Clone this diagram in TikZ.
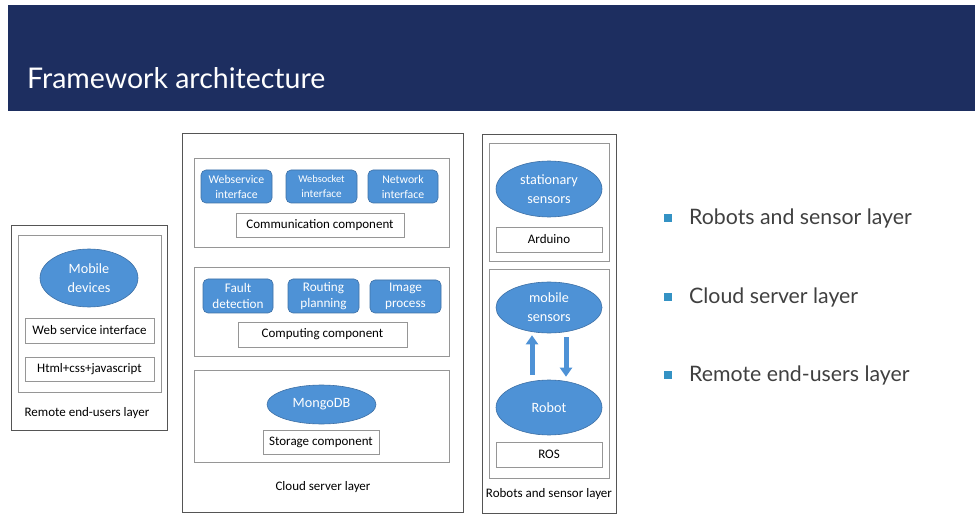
\documentclass[tikz,border=0pt]{standalone}
\usepackage{fontspec}
\setmainfont{Carlito}
\newfontfamily\gillfont{Lato}
\usetikzlibrary{shapes.geometric,arrows.meta,calc}
\definecolor{hdrblue}{RGB}{29,46,96}
\definecolor{ellblue}{RGB}{78,146,214}
\definecolor{ellborder}{RGB}{62,112,165}
\definecolor{boxgray}{RGB}{150,150,150}
\definecolor{outgray}{RGB}{85,85,85}
\definecolor{bultxt}{RGB}{64,64,64}
\definecolor{bulsq}{RGB}{52,146,196}
\begin{document}
\begin{tikzpicture}[x=1pt,y=-1pt,
  outerbox/.style={draw=outgray,line width=0.9pt,inner sep=0pt},
  inbox/.style={draw=boxgray,line width=0.8pt,inner sep=0pt},
  lbl/.style={draw=boxgray,line width=0.7pt,fill=white,inner sep=0pt,font=\fontsize{13}{14}\selectfont},
  ell/.style={ellipse,fill=ellblue,draw=ellborder,line width=0.6pt,inner sep=0pt,text=white,align=center,font=\fontsize{14.2}{19}\selectfont},
  rbox/.style={rounded corners=5pt,fill=ellblue,draw=ellborder,line width=0.6pt,inner sep=0pt,text=white,align=center},
  layerlbl/.style={inner sep=0pt,font=\fontsize{13}{14}\selectfont},
  bul/.style={fill=bulsq,minimum size=8pt,inner sep=0pt},
  bultext/.style={anchor=west,inner sep=0pt,text=bultxt,font=\gillfont\fontsize{21.3}{25}\selectfont},
  blockarrow/.style={draw=ellblue,line width=5pt,-{Triangle[width=12pt,length=9pt]}}
]
\useasboundingbox (0,0) rectangle (979,526);
% header
\node[fill=hdrblue,minimum width=967pt,minimum height=106pt,inner sep=0pt] (hdr) at (491.5,58) {};
\node[anchor=base west,inner sep=0pt,text=white,font=\gillfont\fontsize{28.5}{32}\selectfont] (title) at (27,89) {Framework architecture};

% Remote end-users layer
\node[outerbox,minimum width=156pt,minimum height=205pt] (remote) at (89,327.5) {};
\node[inbox,minimum width=143pt,minimum height=157pt] (remotein) at (89.5,313.5) {};
\node[ell,minimum width=98pt,minimum height=58pt] (mobile) at (89,278) {Mobile\\devices};
\node[lbl,minimum width=129pt,minimum height=25pt] (websi) at (89.5,330.5) {Web service interface};
\node[lbl,minimum width=129pt,minimum height=24pt] (html) at (89.5,369) {Html+css+javascript};
\node[layerlbl] (remotelbl) at (87,413) {Remote end-users layer};

% Cloud server layer
\node[outerbox,minimum width=281pt,minimum height=379pt] (cloud) at (322.5,322.5) {};
\node[inbox,minimum width=255pt,minimum height=89pt] (comm) at (321.5,202.5) {};
\node[rbox,minimum width=71pt,minimum height=33pt,font=\fontsize{11.8}{15}\selectfont] (wsi) at (236.5,186.5) {Webservice\\interface};
\node[rbox,minimum width=71pt,minimum height=33pt,font=\fontsize{11.2}{15}\selectfont] (wsock) at (321.5,186.5) {{\fontsize{10.4}{15}\selectfont Websocket}\\interface};
\node[rbox,minimum width=70pt,minimum height=33pt,font=\fontsize{11.8}{15}\selectfont] (neti) at (403,186.5) {Network\\interface};
\node[lbl,minimum width=168pt,minimum height=24pt] (commc) at (320,225) {Communication component};
\node[inbox,minimum width=255pt,minimum height=89pt] (comp) at (321.5,311.5) {};
\node[rbox,minimum width=70pt,minimum height=34pt,font=\fontsize{13.2}{16.5}\selectfont] (fault) at (238,296) {Fault\\detection};
\node[rbox,minimum width=71pt,minimum height=34pt,font=\fontsize{13.2}{16.5}\selectfont] (routing) at (323.5,296) {Routing\\planning};
\node[rbox,minimum width=71pt,minimum height=33pt,font=\fontsize{13.2}{16.5}\selectfont] (image) at (405.5,296.5) {Image\\process};
\node[lbl,minimum width=169pt,minimum height=25pt] (compc) at (322.5,334.5) {Computing component};
\node[inbox,minimum width=255pt,minimum height=92pt] (stor) at (321.5,416) {};
\node[ell,minimum width=109pt,minimum height=39pt] (mongo) at (321.5,404.5) {MongoDB};
\node[lbl,minimum width=116pt,minimum height=24pt] (storc) at (321,442) {Storage component};
\node[layerlbl] (cloudlbl) at (323,487) {Cloud server layer};

% Robots and sensor layer
\node[outerbox,minimum width=134pt,minimum height=379pt] (robots) at (549,323.5) {};
\node[inbox,minimum width=120pt,minimum height=118pt] (statbox) at (549,202) {};
\node[ell,minimum width=106pt,minimum height=56pt] (stat) at (549,189) {stationary\\sensors};
\node[lbl,minimum width=106pt,minimum height=25pt] (arduino) at (549,239.5) {Arduino};
\node[inbox,minimum width=120pt,minimum height=209pt] (mobbox) at (549,373.5) {};
\node[ell,minimum width=106pt,minimum height=51pt] (msens) at (549,307.5) {mobile\\sensors};
\node[ell,minimum width=106pt,minimum height=55pt] (robot) at (549,407.5) {Robot};
\node[lbl,minimum width=106pt,minimum height=25pt] (ros) at (549,454.5) {ROS};
\node[layerlbl] (robotslbl) at (549,494) {Robots and sensor layer};

% arrows between mobile sensors and robot
\coordinate (upfrom) at ($(robot.north)+(-17,-5)$);
\coordinate (upto) at ($(msens.south)+(-17,2)$);
\coordinate (dnfrom) at ($(msens.south)+(17,4)$);
\coordinate (dnto) at ($(robot.north)+(17,-3)$);
\draw[blockarrow] (upfrom) -- (upto);
\draw[blockarrow] (dnfrom) -- (dnto);

% bullets
\node[bul] (b1) at (668,218) {};
\node[bultext] (t1) at (689,218) {Robots and sensor layer};
\node[bul] (b2) at (668,297) {};
\node[bultext] (t2) at (689,297) {Cloud server layer};
\node[bul] (b3) at (668,375) {};
\node[bultext] (t3) at (689,375) {Remote end-users layer};
\end{tikzpicture}
\end{document}
